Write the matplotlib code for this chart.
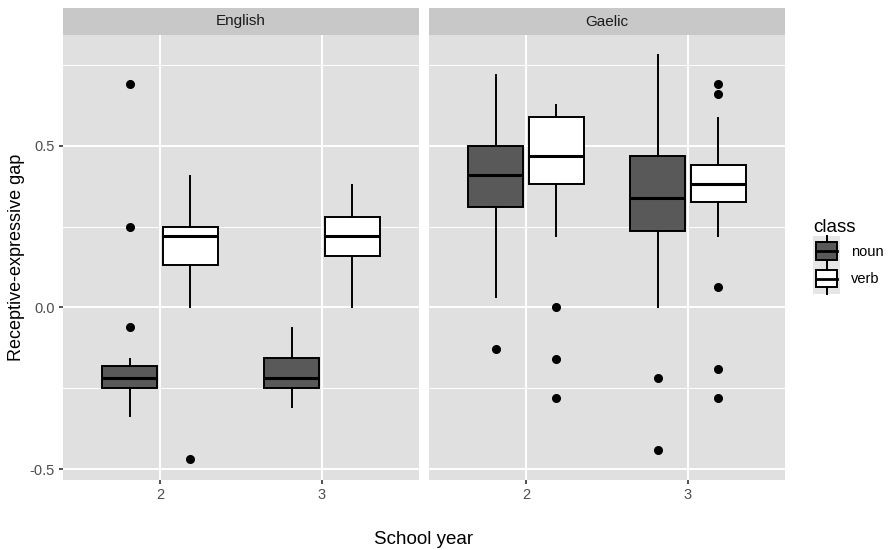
import matplotlib
matplotlib.use("Agg")
import matplotlib.pyplot as plt
from matplotlib.patches import Rectangle, Patch
from matplotlib.lines import Line2D
from matplotlib.legend_handler import HandlerBase
from matplotlib.ticker import MultipleLocator

plt.rcParams['font.family'] = ['Liberation Sans', 'DejaVu Sans']
plt.rcParams['axes.unicode_minus'] = False

# data, order: English-2, English-3, Gaelic-2, Gaelic-3
languages = ['English', 'Gaelic']
years = ['2', '3']
classes = ['noun', 'verb']

noun_whislo = [-0.337, -0.307, 0.033, 0.0]
noun_q1 = [-0.25, -0.25, 0.311, 0.236]
noun_med = [-0.218, -0.218, 0.411, 0.34]
noun_q3 = [-0.181, -0.158, 0.5, 0.47]
noun_whishi = [-0.16, -0.063, 0.718, 0.78]
noun_fliers = [[0.69, 0.249, -0.06], [], [-0.13], [-0.219, -0.44]]

verb_whislo = [0.0, 0.0, 0.22, 0.22]
verb_q1 = [0.13, 0.16, 0.382, 0.326]
verb_med = [0.22, 0.221, 0.47, 0.382]
verb_q3 = [0.25, 0.28, 0.59, 0.441]
verb_whishi = [0.408, 0.379, 0.627, 0.587]
verb_fliers = [[-0.469], [], [0.0, -0.16, -0.279], [0.69, 0.66, 0.062, -0.189, -0.279]]

fills = {'noun': '#595959', 'verb': 'white'}
panel_bg = '#e0e0e0'
strip_bg = '#c8c8c8'


def make_stats(lo, q1, med, q3, hi, fl):
    out = []
    for i in range(len(lo)):
        out.append(dict(whislo=lo[i], q1=q1[i], med=med[i], q3=q3[i],
                        whishi=hi[i], fliers=fl[i]))
    return out


stats = {
    'noun': make_stats(noun_whislo, noun_q1, noun_med, noun_q3, noun_whishi, noun_fliers),
    'verb': make_stats(verb_whislo, verb_q1, verb_med, verb_q3, verb_whishi, verb_fliers),
}


class BoxHandler(HandlerBase):
    """draws a small ggplot-like boxplot key"""
    def create_artists(self, legend, orig_handle, xdescent, ydescent,
                       width, height, fontsize, trans):
        x0, y0 = -xdescent, -ydescent
        bg = Rectangle((x0, y0 - 2), width, height + 4, fc='#e6e6e6', ec='none', transform=trans)
        box = Rectangle((x0 + width * 0.12, y0 + height * 0.15), width * 0.76, height * 0.7,
                        fc=orig_handle.get_facecolor(), ec='black', lw=1.4, transform=trans)
        med = Line2D([x0 + width * 0.12, x0 + width * 0.88], [y0 + height / 2] * 2,
                     color='black', lw=2, transform=trans)
        w1 = Line2D([x0 + width / 2] * 2, [y0 - 2, y0 + height * 0.15], color='black', lw=1.4, transform=trans)
        w2 = Line2D([x0 + width / 2] * 2, [y0 + height * 0.85, y0 + height + 2], color='black', lw=1.4, transform=trans)
        return [bg, box, med, w1, w2]


W, H = 892, 550
fig = plt.figure(figsize=(W / 100, H / 100), dpi=100)

panel_left = [63, 429]
panel_w = 356
panel_top, panel_bot = 35, 480
strip_h = 27

dodge = 0.1875
box_w = 0.3375

for k, lang in enumerate(languages):
    ax = fig.add_axes([panel_left[k] / W, (H - panel_bot) / H, panel_w / W, (panel_bot - panel_top) / H])
    ax.set_facecolor(panel_bg)
    for s in ax.spines.values():
        s.set_visible(False)

    for j, cls in enumerate(classes):
        off = -dodge if cls == 'noun' else dodge
        st = stats[cls][k * 2:k * 2 + 2]
        pos = [i + 1 + off for i in range(len(years))]
        ax.bxp(st, positions=pos, widths=box_w, showcaps=False, patch_artist=True,
               boxprops=dict(facecolor=fills[cls], edgecolor='black', linewidth=1.4),
               medianprops=dict(color='black', linewidth=2.2),
               whiskerprops=dict(color='black', linewidth=1.4),
               flierprops=dict(marker='o', markerfacecolor='black', markeredgecolor='black',
                               markersize=5.5),
               zorder=3)

    ax.set_xlim(0.4, 2.6)
    ax.set_ylim(-0.534, 0.843)
    ax.set_xticks([1, 2])
    ax.set_xticklabels(years)
    ax.yaxis.set_major_locator(MultipleLocator(0.5))
    ax.yaxis.set_minor_locator(MultipleLocator(0.25))
    ax.grid(which='major', color='white', linewidth=1.4, zorder=0)
    ax.grid(which='minor', axis='y', color='white', linewidth=0.7, zorder=0)
    ax.set_axisbelow(True)
    ax.tick_params(which='major', length=3, width=1.2, color='#333333', labelsize=10.5,
                   labelcolor='#4d4d4d', pad=3)
    ax.tick_params(which='minor', length=0)
    if k == 0:
        ax.set_ylabel('Receptive-expressive gap', fontsize=13, labelpad=3)
    else:
        ax.tick_params(axis='y', which='both', left=False, labelleft=False)

    # facet strip
    sax = fig.add_axes([panel_left[k] / W, (H - panel_top) / H, panel_w / W, strip_h / H])
    sax.set_facecolor(strip_bg)
    sax.set_xticks([])
    sax.set_yticks([])
    for s in sax.spines.values():
        s.set_visible(False)
    sax.text(0.5, 0.5, lang, ha='center', va='center', fontsize=11, color='#1a1a1a',
             transform=sax.transAxes)

fig.text((panel_left[0] + panel_left[1] + panel_w) / 2 / W, 1 - 540 / H, 'School year',
         ha='center', va='center', fontsize=13.5)

handles = [Patch(facecolor=fills[c], edgecolor='black') for c in classes]
leg = fig.legend(handles, classes, title='class', loc='upper left',
                 bbox_to_anchor=(800 / W, 1 - 206 / H), frameon=False,
                 handler_map={Patch: BoxHandler()}, fontsize=10.5, title_fontsize=13.5,
                 handlelength=1.85, handleheight=2.3, labelspacing=0.15, handletextpad=0.75,
                 alignment='left')

fig.savefig('out.png', dpi=100)
